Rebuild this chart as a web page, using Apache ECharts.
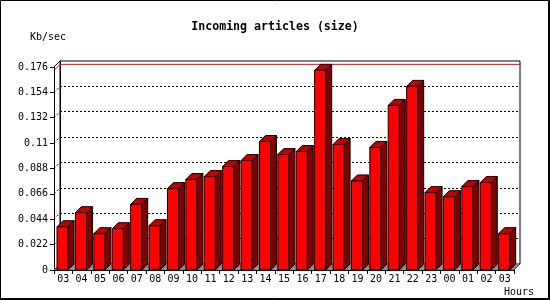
<!DOCTYPE html>
<html>
<head>
<meta charset="utf-8">
<script src="https://cdn.jsdelivr.net/npm/echarts@6/dist/echarts.min.js"></script>
<style>html,body{margin:0;padding:0;background:#fff}#c{width:550px;height:300px}</style>
</head>
<body>
<div id="c"></div>
<script>
const categories = ['03','04','05','06','07','08','09','10','11','12','13','14','15','16','17','18','19','20','21','22','23','00','01','02','03'];
const sizeValues = [0.0375,0.0497,0.0315,0.0358,0.0569,0.0384,0.0706,0.0784,0.0810,0.0897,0.0949,0.1114,0.1001,0.1027,0.1731,0.1088,0.0772,0.1062,0.1427,0.1592,0.0671,0.0636,0.0723,0.0758,0.0315];
const yTicks = [0, 0.022, 0.044, 0.066, 0.088, 0.11, 0.132, 0.154, 0.176];
const yTickLabels = ['0','0.022','0.044','0.066','0.088','0.11','0.132','0.154','0.176'];
const titleText = 'Incoming articles (size)';
const yUnit = 'Kb/sec';
const xUnit = 'Hours';

const DEPTH = 6;
const FONT = 'DejaVu Sans Mono';
const maxVal = Math.max.apply(null, sizeValues);

const chart = echarts.init(document.getElementById('c'), null, {renderer: 'canvas'});

function barItem(params, api) {
  const idx = api.value(0), v = api.value(1);
  const base = api.coord([idx, 0]);
  const top = api.coord([idx, v]);
  const band = api.size([1, 0])[0];
  const s = base[0] - band / 2;
  const y0 = base[1], ty = top[1];
  const fx0 = s + band * 0.165, fx1 = fx0 + band * 0.6;
  const d = DEPTH;
  return {
    type: 'group',
    children: [
      {type: 'polygon', shape: {points: [[s, y0], [s + band, y0], [s + band + d, y0 - d], [s + d, y0 - d]]},
       style: {fill: '#8a8a8a', stroke: null}},
      {type: 'polygon', shape: {points: [[fx1, ty], [fx1 + d, ty - d], [fx1 + d, y0 - d], [fx1, y0]]},
       style: {fill: '#800000', stroke: '#000', lineWidth: 1}},
      {type: 'polygon', shape: {points: [[fx0, ty], [fx1, ty], [fx1 + d, ty - d], [fx0 + d, ty - d]]},
       style: {fill: '#c00000', stroke: '#000', lineWidth: 1}},
      {type: 'rect', shape: {x: fx0, y: ty, width: fx1 - fx0, height: y0 - ty},
       style: {fill: '#ff0000', stroke: '#000', lineWidth: 1}}
    ]
  };
}

function frameItem(params, api) {
  const band = api.size([1, 0])[0];
  const n = categories.length;
  const left = api.coord([0, 0])[0] - band / 2;
  const right = api.coord([n - 1, 0])[0] + band / 2;
  const d = DEPTH;
  const children = [];
  yTicks.forEach(function (t, i) {
    const y = api.coord([0, t])[1];
    const solid = (i === 0 || i === yTicks.length - 1);
    children.push({type: 'line', shape: {x1: left, y1: y, x2: left + d, y2: y - d},
      style: {stroke: '#000', lineWidth: 1, lineDash: solid ? null : [2, 2]}});
  });
  const y0 = api.coord([0, 0])[1];
  children.push({type: 'line', shape: {x1: right, y1: y0, x2: right + d, y2: y0 - d},
    style: {stroke: '#000', lineWidth: 1}});
  const ym = api.coord([0, api.value(1)])[1];
  children.push({type: 'polyline', shape: {points: [[left, ym], [left + d, ym - d], [right + d, ym - d]]},
    style: {stroke: '#ff0000', lineWidth: 1, fill: null}});
  return {type: 'group', children: children};
}

const option = {
  animation: false,
  backgroundColor: '#fff',
  title: [
    {text: titleText, left: 'center', top: 21, padding: 0,
     textStyle: {fontFamily: FONT, fontSize: 11.6, fontWeight: 'bold', color: '#000'}},
    {text: yUnit, left: 30, top: 32, padding: 0,
     textStyle: {fontFamily: FONT, fontSize: 10, fontWeight: 'normal', color: '#000'}},
    {text: xUnit, left: 504, top: 287, padding: 0,
     textStyle: {fontFamily: FONT, fontSize: 10, fontWeight: 'normal', color: '#000'}}
  ],
  grid: [
    {left: 54, top: 67, width: 460, height: 203, show: false},
    {left: 60, top: 61, width: 460, height: 203, show: true, borderColor: '#000', borderWidth: 1, backgroundColor: 'transparent'}
  ],
  xAxis: [
    {type: 'category', gridIndex: 0, data: categories, boundaryGap: true,
     axisLine: {lineStyle: {color: '#000', width: 1}},
     axisTick: {show: true, interval: 0, length: 4, lineStyle: {color: '#000'}},
     axisLabel: {interval: 0, margin: 4, color: '#000', fontFamily: FONT, fontSize: 10},
     splitLine: {show: false}},
    {type: 'category', gridIndex: 1, data: categories, show: false}
  ],
  yAxis: [
    {type: 'value', gridIndex: 0, min: 0, max: 0.176, interval: 0.022,
     axisLine: {show: true, lineStyle: {color: '#000', width: 1}},
     axisTick: {show: true, length: 4, lineStyle: {color: '#000'}},
     axisLabel: {margin: 6, color: '#000', fontFamily: FONT, fontSize: 10,
       formatter: function (v) { const i = yTicks.findIndex(function (t) { return Math.abs(t - v) < 1e-9; }); return i >= 0 ? yTickLabels[i] : ''; }},
     splitLine: {show: false}},
    {type: 'value', gridIndex: 1, min: 0, max: 0.176, interval: 0.022,
     axisLine: {show: true, lineStyle: {color: '#000', width: 1}},
     axisTick: {show: false}, axisLabel: {show: false},
     splitLine: {show: true, showMinLine: false, showMaxLine: false, lineStyle: {color: '#000', width: 1, type: [2, 2]}}}
  ],
  series: [
    {type: 'custom', name: 'frame', xAxisIndex: 0, yAxisIndex: 0, z: 1,
     renderItem: frameItem, data: [[0, maxVal]], silent: true},
    {type: 'custom', name: 'size', xAxisIndex: 0, yAxisIndex: 0, z: 2,
     renderItem: barItem, data: sizeValues.map(function (v, i) { return [i, v]; })}
  ],
  graphic: [
    {type: 'rect', shape: {x: 0.5, y: 0.5, width: 548, height: 298}, style: {fill: null, stroke: '#000', lineWidth: 1}, z: 100},
    {type: 'line', shape: {x1: 549.5, y1: 0, x2: 549.5, y2: 300}, style: {stroke: '#000', lineWidth: 1}, z: 100},
    {type: 'line', shape: {x1: 0, y1: 299.5, x2: 550, y2: 299.5}, style: {stroke: '#000', lineWidth: 1}, z: 100}
  ]
};
chart.setOption(option);
</script>
</body>
</html>
